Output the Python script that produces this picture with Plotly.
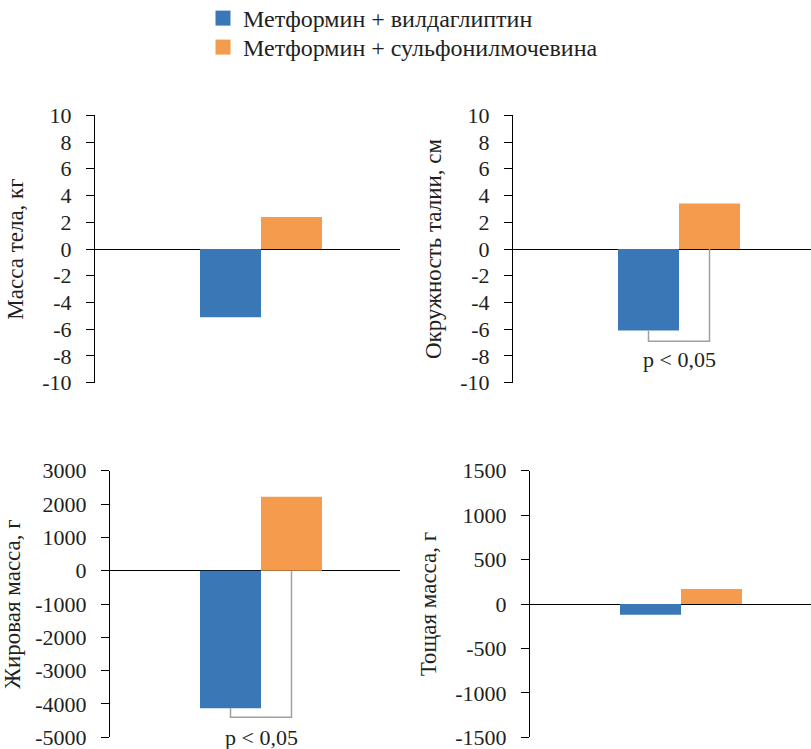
import plotly.graph_objects as go

# ---- data ----
series_names = ["Метформин + вилдаглиптин", "Метформин + сульфонилмочевина"]
panel_titles = ["Масса тела, кг", "Окружность талии, см", "Жировая масса, г", "Тощая масса, г"]
vilda_values = [-5.1, -6.1, -4130, -120]
sulfo_values = [2.4, 3.4, 2220, 170]
tick_values = [
    [10, 8, 6, 4, 2, 0, -2, -4, -6, -8, -10],
    [10, 8, 6, 4, 2, 0, -2, -4, -6, -8, -10],
    [3000, 2000, 1000, 0, -1000, -2000, -3000, -4000, -5000],
    [1500, 1000, 500, 0, -500, -1000, -1500],
]
y_ranges = [[-10, 10], [-10, 10], [-5000, 3000], [-1500, 1500]]
# significance brackets: bracket bottom level, label level (None = no bracket)
bracket_levels = [None, -6.9, -4400, None]
label_levels = [None, -8.3, -5000, None]
sig_text = "p < 0,05"

colors = ["#3a77b6", "#f59b4d"]
FONT = "Liberation Serif"
TXT = "#231f20"
W, H = 811, 749
NUM_SIZE = 22
LEG_SIZE = 24
TITLE_SIZE = 23

# panel geometry in px: (axis x, right edge, group center x, top y, bottom y)
geom = [
    (95, 400, 261, 115.3, 382.7),
    (513, 811, 679, 115.3, 382.7),
    (110, 400, 261, 470.7, 737.3),
    (530, 811, 681, 470.7, 737.3),
]
UNIT = 305.0  # px per x unit
BARW = 0.2    # each bar width in x units (bargap 0.6 -> group width 0.4)

fig = go.Figure()
legend_rows = [18.5, 47.5]
layout = dict(
    width=W, height=H, margin=dict(l=0, r=0, t=0, b=0, autoexpand=False),
    plot_bgcolor="white", paper_bgcolor="white",
    barmode="group", bargap=0.6, bargroupgap=0,
    font=dict(family=FONT, size=NUM_SIZE, color=TXT),
    showlegend=True,
)
for s in range(2):
    lk = "legend" if s == 0 else "legend2"
    layout[lk] = dict(x=203 / W, y=1 - legend_rows[s] / H, xanchor="left", yanchor="middle",
                      font=dict(family=FONT, size=LEG_SIZE, color=TXT),
                      bgcolor="rgba(0,0,0,0)", itemwidth=30)
    # legend proxy (no data points) with a 15 px square symbol
    fig.add_trace(go.Scatter(
        x=[None], y=[None], mode="markers", name=series_names[s],
        marker=dict(symbol="square", size=15, color=colors[s], line=dict(width=0)),
        legend=lk, showlegend=True, hoverinfo="skip",
    ))

for i in range(4):
    ax, right, c, ytop, ybot = geom[i]
    xa = "x" if i == 0 else f"x{i+1}"
    ya = "y" if i == 0 else f"y{i+1}"
    xk = "xaxis" if i == 0 else f"xaxis{i+1}"
    yk = "yaxis" if i == 0 else f"yaxis{i+1}"
    for s, vals in enumerate([vilda_values, sulfo_values]):
        fig.add_trace(go.Bar(
            x=[0], y=[vals[i]], name=series_names[s],
            marker=dict(color=colors[s], line=dict(width=0)),
            showlegend=False,
            xaxis=xa, yaxis=ya, offsetgroup=str(s),
        ))
    layout[xk] = dict(
        domain=[ax / W, right / W],
        range=[-(c - ax) / UNIT, (right - c) / UNIT],
        showline=False, showgrid=False, zeroline=False,
        showticklabels=False, ticks="", fixedrange=True,
        anchor=ya,
    )
    tv = tick_values[i]
    layout[yk] = dict(
        domain=[1 - ybot / H, 1 - ytop / H],
        range=y_ranges[i],
        tickvals=tv, ticktext=[str(v) for v in tv],
        ticks="outside", ticklen=8, tickwidth=1, tickcolor="black",
        showline=True, linecolor="black", linewidth=1,
        showgrid=False, zeroline=True, zerolinecolor="black", zerolinewidth=1,
        tickfont=dict(family=FONT, size=NUM_SIZE, color=TXT),
        ticklabelstandoff=10, ticklabeloverflow="allow",
        title=dict(text=panel_titles[i], font=dict(family=FONT, size=TITLE_SIZE, color=TXT), standoff=12),
        anchor=xa, automargin=False,
    )
    if bracket_levels[i] is not None:
        b = bracket_levels[i]
        fig.add_trace(go.Scatter(
            x=[-BARW / 2, -BARW / 2, BARW / 2, BARW / 2],
            y=[vilda_values[i], b, b, 0],
            mode="lines", line=dict(color="#a0a0a0", width=1.5),
            showlegend=False, hoverinfo="skip", xaxis=xa, yaxis=ya,
        ))
        fig.add_annotation(
            x=0, y=label_levels[i], xref=xa, yref=ya, text=sig_text,
            showarrow=False, font=dict(family=FONT, size=NUM_SIZE, color=TXT),
            xanchor="center", yanchor="middle",
        )

fig.update_layout(**layout)
fig.write_html("out.html", config={"displayModeBar": False},
               post_script="document.body.style.margin='0';document.body.style.overflow='hidden';")
